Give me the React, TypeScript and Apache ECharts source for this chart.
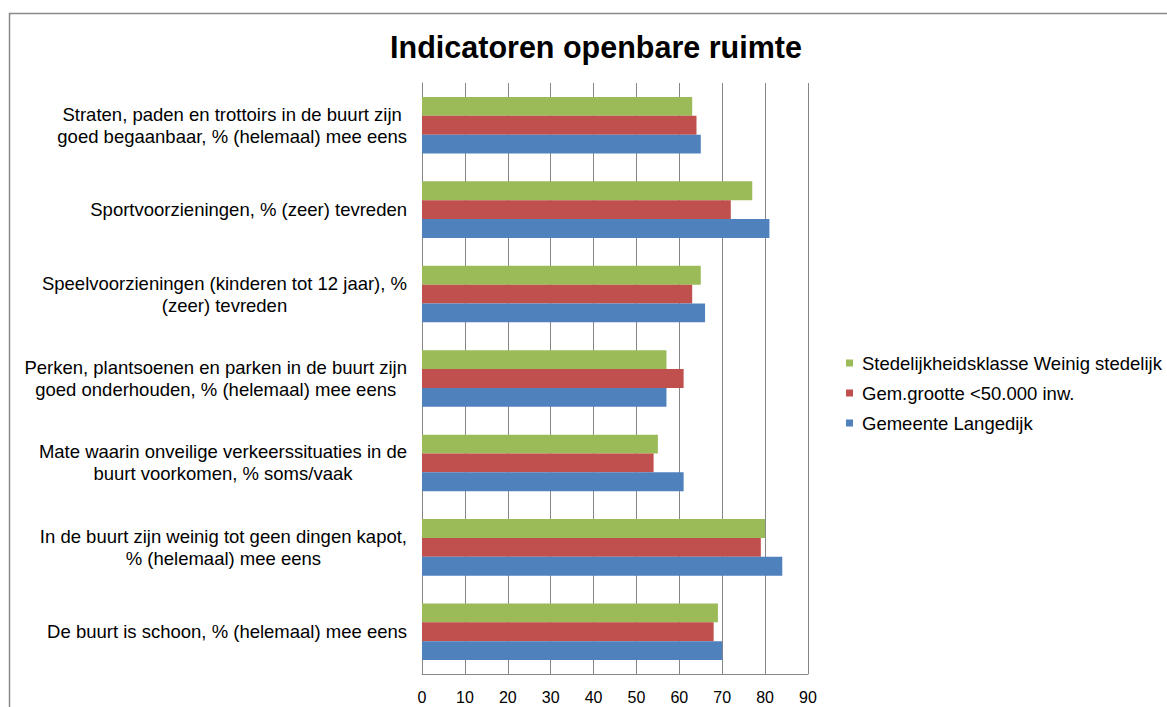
import React, { useEffect, useRef } from "react";
import * as echarts from "echarts";

const categories = [
  "Straten, paden en trottoirs in de buurt zijn\ngoed begaanbaar, % (helemaal) mee eens",
  "Sportvoorzieningen, % (zeer) tevreden",
  "Speelvoorzieningen (kinderen tot 12 jaar), %\n(zeer) tevreden",
  "Perken, plantsoenen en parken in de buurt zijn\ngoed onderhouden, % (helemaal) mee eens",
  "Mate waarin onveilige verkeerssituaties in de\nbuurt voorkomen, % soms/vaak",
  "In de buurt zijn weinig tot geen dingen kapot,\n% (helemaal) mee eens",
  "De buurt is schoon, % (helemaal) mee eens",
];

const seriesNames = [
  "Stedelijkheidsklasse Weinig stedelijk",
  "Gem.grootte <50.000 inw.",
  "Gemeente Langedijk",
];

const stedelijkheid = [63, 77, 65, 57, 55, 80, 69];
const gemGrootte = [64, 72, 63, 61, 54, 79, 68];
const langedijk = [65, 81, 66, 57, 61, 84, 70];

const colors = ["#9BBB59", "#C0504D", "#4F81BD"];
const font = "'Liberation Sans', Arial, sans-serif";

export default function App() {
  const ref = useRef<HTMLDivElement>(null);
  useEffect(() => {
    if (!ref.current) return;
    const chart = echarts.init(ref.current, undefined, { renderer: "svg" });
    const data = [stedelijkheid, gemGrootte, langedijk];
    chart.setOption({
      animation: false,
      backgroundColor: "#ffffff",
      textStyle: { fontFamily: font },
      title: {
        text: "Indicatoren openbare ruimte",
        left: 591,
        textAlign: "center",
        top: 26,
        textStyle: { fontFamily: font, fontSize: 30.5, fontWeight: "bold", color: "#000" },
      },
      graphic: [
        {
          type: "rect",
          shape: { x: 9.5, y: 13.5, width: 1300, height: 900 },
          style: { fill: "none", stroke: "#8a8a8a", lineWidth: 1.5 },
          silent: true,
        },
      ],
      legend: {
        orient: "vertical",
        left: 841,
        top: 347,
        itemWidth: 7,
        itemHeight: 7,
        itemGap: 8,
        icon: "rect",
        data: seriesNames,
        textStyle: { fontFamily: font, fontSize: 18.5, color: "#000", lineHeight: 22, padding: [0, 0, 0, 4] },
      },
      grid: { left: 422, top: 83, width: 386, height: 591, containLabel: false },
      xAxis: {
        type: "value",
        min: 0,
        max: 90,
        interval: 10,
        axisLine: { show: true, lineStyle: { color: "#868686", width: 1 } },
        axisTick: { show: false },
        splitLine: { show: true, lineStyle: { color: "#868686", width: 1 } },
        axisLabel: { fontFamily: font, fontSize: 16, color: "#000", margin: 15 },
      },
      yAxis: {
        type: "category",
        inverse: true,
        data: categories,
        axisLine: { show: true, lineStyle: { color: "#868686", width: 1 } },
        axisTick: { show: false },
        axisLabel: {
          align: "right",
          margin: 15,
          formatter: (v: string) => v.split("\n").map((l) => `{c|${l}}`).join("\n"),
          rich: {
            c: { align: "center", fontFamily: font, fontSize: 18.5, lineHeight: 22, color: "#000" },
          },
        },
      },
      series: seriesNames.map((name, i) => ({
        name,
        type: "bar",
        data: data[i],
        barGap: "0%",
        barCategoryGap: "33%",
        itemStyle: { color: colors[i] },
      })),
    });
    return () => chart.dispose();
  }, []);
  return (
    <div
      ref={ref}
      style={{ position: "fixed", left: 0, top: 0, width: 1167, height: 707 }}
    />
  );
}
